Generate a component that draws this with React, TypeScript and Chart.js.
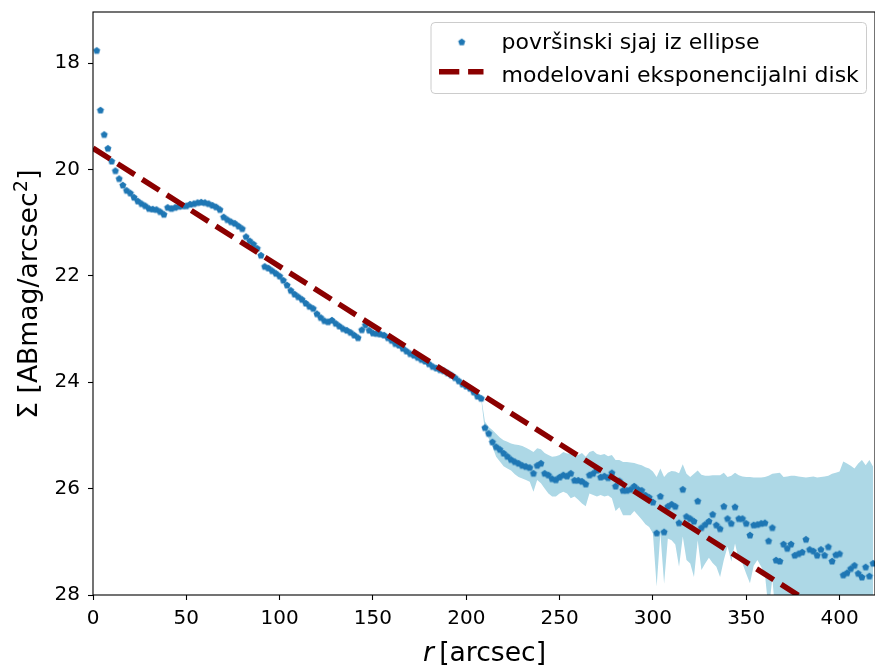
import React, { useEffect, useRef } from "react";
import { Chart, registerables } from "chart.js";

Chart.register(...registerables);

// radius of each isophote [arcsec]
const radiusArcsec = [
  2, 4, 6, 8, 10, 12, 14, 16, 18, 20, 22, 24, 26, 28, 30, 32, 34, 36, 38, 40,
  42, 44, 46, 48, 50, 52, 54, 56, 58, 60, 62, 64, 66, 68, 70, 72, 74, 76, 78, 80,
  82, 84, 86, 88, 90, 92, 94, 96, 98, 100, 102, 104, 106, 108, 110, 112, 114, 116, 118, 120,
  122, 124, 126, 128, 130, 132, 134, 136, 138, 140, 142, 144, 146, 148, 150, 152, 154, 156, 158, 160,
  162, 164, 166, 168, 170, 172, 174, 176, 178, 180, 182, 184, 186, 188, 190, 192, 194, 196, 198, 200,
  202, 204, 206, 208, 210, 212, 214, 216, 218, 220, 222, 224, 226, 228, 230, 232, 234, 236, 238, 240,
  242, 244, 246, 248, 250, 252, 254, 256, 258, 260, 262, 264, 266, 268, 270, 272, 274, 276, 278, 280,
  282, 284, 286, 288, 290, 292, 294, 296, 298, 300, 302, 304, 306, 308, 310, 312, 314, 316, 318, 320,
  322, 324, 326, 328, 330, 332, 334, 336, 338, 340, 342, 344, 346, 348, 350, 352, 354, 356, 358, 360,
  362, 364, 366, 368, 370, 372, 374, 376, 378, 380, 382, 384, 386, 388, 390, 392, 394, 396, 398, 400,
  402, 404, 406, 408, 410, 412, 414, 416, 418,
];

// surface brightness from ellipse fitting [ABmag/arcsec^2]
const surfaceBrightness = [
  17.76, 18.88, 19.34, 19.6, 19.84, 20.02, 20.17, 20.29, 20.39, 20.44,
  20.52, 20.59, 20.64, 20.68, 20.73, 20.74, 20.75, 20.79, 20.84, 20.71,
  20.73, 20.71, 20.69, 20.68, 20.68, 20.65, 20.64, 20.62, 20.61, 20.62,
  20.64, 20.67, 20.7, 20.75, 20.89, 20.94,
  20.98, 21.01, 21.06, 21.11, 21.26, 21.34, 21.4, 21.48, 21.61, 21.82,
  21.85, 21.9, 21.95, 22.0, 22.08, 22.17, 22.27, 22.34, 22.39, 22.44,
  22.51, 22.57, 22.61, 22.71, 22.78, 22.84, 22.86, 22.83, 22.89, 22.94, 22.99,
  23.02, 23.06, 23.11, 23.16, 23.01, 22.92, 23.02, 23.07, 23.08, 23.09,
  23.11, 23.16, 23.21, 23.27, 23.3, 23.36, 23.41, 23.46, 23.49, 23.53,
  23.57, 23.6, 23.65, 23.7, 23.73, 23.76, 23.78, 23.82, 23.86, 23.91,
  23.97, 24.03, 24.07, 24.11, 24.18,
  24.26, 24.3, 24.85, 24.96, 25.12, 25.21, 25.26, 25.33, 25.39, 25.45,
  25.49, 25.52, 25.56, 25.58, 25.6, 25.71, 25.56, 25.52, 25.71, 25.74,
  25.81, 25.83, 25.78, 25.74, 25.76, 25.71, 25.84, 25.84, 25.86, 25.91,
  25.74, 25.71, 25.65,
  25.78, 25.76, 25.79, 25.7, 25.95, 25.85, 26.03, 26.03, 26.01, 25.95,
  26.01, 26.03, 26.12, 26.16, 26.25, 26.83, 26.14, 26.81, 26.33, 26.29,
  26.33, 26.64, 26.01, 26.52, 26.56, 26.61, 26.23, 26.73, 26.67, 26.61,
  26.48, 26.68, 26.75, 26.33, 26.56,
  26.65, 26.34, 26.56, 26.56, 26.65, 26.87, 26.68, 26.67, 26.65, 26.64,
  26.98, 26.73, 27.34, 27.36, 27.04, 27.12, 27.04, 27.25, 27.22, 27.19,
  26.95, 27.14, 27.17, 27.25, 27.14, 27.25, 27.09, 27.36, 27.24, 27.22,
  27.62, 27.58, 27.5, 27.44, 27.59, 27.66, 27.47, 27.64, 27.4,
];

// uncertainty band (outer part, where it is visible)
const bandRadius = [
  206, 208, 210, 212, 214, 216, 218, 220, 222, 224, 226, 228, 230, 232, 234, 236, 238, 240, 242, 244,
  246, 248, 250, 252, 254, 256, 258, 260, 262, 264, 266, 268, 270, 272, 274, 276, 278, 280, 282, 284,
  286, 288, 290, 292, 294, 296, 298, 300, 302, 304, 306, 308, 310, 312, 314, 316, 318, 320, 322, 324,
  326, 328, 330, 332, 334, 336, 338, 340, 342, 344, 346, 348, 350, 352, 354, 356, 358, 360, 362, 364,
  366, 368, 370, 372, 374, 376, 378, 380, 382, 384, 386, 388, 390, 392, 394, 396, 398, 400, 402, 404,
  406, 408, 410, 412, 414, 416, 418,
];
const bandUpper = [
  24.23, 24.28, 24.74, 24.84, 24.9, 24.97, 25.04, 25.09, 25.12, 25.15,
  25.17, 25.18, 25.2, 25.23, 25.27, 25.31, 25.24, 25.26, 25.33, 25.37,
  25.4, 25.39, 25.37, 25.31, 25.34, 25.34, 25.37, 25.37, 25.33, 25.4,
  25.31, 25.29, 25.35,
  25.37, 25.35, 25.39, 25.37, 25.46, 25.46, 25.5, 25.5, 25.51, 25.52,
  25.54, 25.56, 25.6, 25.62, 25.68, 25.78, 25.62, 25.78, 25.7, 25.67,
  25.68, 25.71, 25.54, 25.72, 25.78, 25.72, 25.66, 25.74, 25.76, 25.76,
  25.75, 25.75, 25.75, 25.7, 25.78,
  25.76, 25.7, 25.75, 25.77, 25.78, 25.78, 25.79, 25.79, 25.79, 25.78,
  25.76, 25.72, 25.71, 25.7, 25.78, 25.77, 25.76, 25.76, 25.77, 25.78,
  25.79, 25.78, 25.77, 25.79, 25.78, 25.77, 25.76, 25.72, 25.7, 25.68,
  25.49, 25.53, 25.57, 25.62, 25.53, 25.46, 25.56, 25.46, 25.59,
];
const bandLower = [
  24.28, 24.32, 24.92, 25.06, 25.21, 25.4, 25.49, 25.58, 25.62, 25.66,
  25.73, 25.78, 25.81, 25.84, 25.87, 26.06, 25.84, 25.9, 26.0, 26.09,
  26.15, 26.15, 26.09, 26.06, 26.09, 26.18, 26.15, 26.21, 26.28, 26.33,
  26.09, 26.12, 26.15,
  26.12, 26.15, 26.13, 26.18, 26.42, 26.35, 26.5, 26.5, 26.5, 26.42,
  26.5, 26.58, 26.67, 26.72, 26.84, 27.84, 26.84, 27.79, 26.94, 26.97,
  27.05, 27.47, 26.9, 27.34, 27.41, 27.66, 26.97, 27.53, 27.41, 27.3,
  27.4, 27.47, 27.66, 27.34, 27.09,
  27.37, 27.03, 27.34, 27.41, 27.6, 27.78, 27.45, 27.34, 27.47, 27.6,
  28.3, 27.69, 28.5, 28.5, 28.5, 28.5, 28.5, 28.5, 28.5, 28.5,
  28.5, 28.5, 28.5, 28.5, 28.5, 28.5, 28.5, 28.5, 28.5, 28.5,
  28.5, 28.5, 28.5, 28.5, 28.5, 28.5, 28.5, 28.5, 28.5,
];

// modelled exponential disk
const modelRadius = [0, 419];
const modelMag = [19.6, 28.92];

const xTicks = [0, 50, 100, 150, 200, 250, 300, 350, 400];
const yTicks = [18, 20, 22, 24, 26, 28];

const legendLabels = ["površinski sjaj iz ellipse", "modelovani eksponencijalni disk"];
const xLabelItalic = "r";
const xLabelRest = "\u2009[arcsec]";
const yLabelMain = "\u03A3 [ABmag/arcsec";
const yLabelSup = "2";
const yLabelEnd = "]";

const POINT_COLOR = "#1f77b4";
const LINE_COLOR = "#8b0000";
const BAND_COLOR = "#add8e6";
const FONT = '"DejaVu Sans"';

function makePentagon(r: number, color: string): HTMLCanvasElement {
  const size = Math.ceil(r * 2 + 2);
  const c = document.createElement("canvas");
  c.width = size;
  c.height = size;
  const ctx = c.getContext("2d")!;
  ctx.fillStyle = color;
  ctx.beginPath();
  for (let i = 0; i < 5; i++) {
    const a = -Math.PI / 2 + (i * 2 * Math.PI) / 5;
    const px = size / 2 + r * Math.cos(a);
    const py = size / 2 + r * Math.sin(a) + 0.4;
    if (i === 0) ctx.moveTo(px, py);
    else ctx.lineTo(px, py);
  }
  ctx.closePath();
  ctx.fill();
  return c;
}

function zeroPadding(s: any) {
  s.paddingTop = 0;
  s.paddingBottom = 0;
  s.paddingLeft = 0;
  s.paddingRight = 0;
}

export default function App() {
  const ref = useRef<HTMLCanvasElement>(null);

  useEffect(() => {
    const canvas = ref.current!;
    const marker = makePentagon(3.7, POINT_COLOR);

    const decor = {
      id: "decor",
      afterLayout(chart: any) {
        const xs = chart.scales.x;
        const W = chart.width;
        if (xs && xs.right !== W) {
          xs.right = W;
          xs.width = W - xs.left;
          xs.configure();
          chart.chartArea.right = W;
          chart.chartArea.width = W - chart.chartArea.left;
        }
      },
      afterDraw(chart: any) {
        const { ctx, chartArea: a } = chart;
        ctx.save();
        // frame
        ctx.strokeStyle = "#000";
        ctx.lineWidth = 1.1;
        ctx.setLineDash([]);
        ctx.strokeRect(a.left, a.top, a.right - a.left, a.bottom - a.top);

        // legend
        const bx = 431, by = 22.5, bw = 435.5, bh = 71, r = 4;
        ctx.beginPath();
        ctx.moveTo(bx + r, by);
        ctx.lineTo(bx + bw - r, by);
        ctx.quadraticCurveTo(bx + bw, by, bx + bw, by + r);
        ctx.lineTo(bx + bw, by + bh - r);
        ctx.quadraticCurveTo(bx + bw, by + bh, bx + bw - r, by + bh);
        ctx.lineTo(bx + r, by + bh);
        ctx.quadraticCurveTo(bx, by + bh, bx, by + bh - r);
        ctx.lineTo(bx, by + r);
        ctx.quadraticCurveTo(bx, by, bx + r, by);
        ctx.closePath();
        ctx.fillStyle = "rgba(255,255,255,0.8)";
        ctx.fill();
        ctx.strokeStyle = "#cccccc";
        ctx.lineWidth = 1;
        ctx.stroke();

        ctx.drawImage(marker, 461.7 - marker.width / 2, 41.7 - marker.height / 2);
        ctx.beginPath();
        ctx.strokeStyle = LINE_COLOR;
        ctx.lineWidth = 5.5;
        ctx.lineCap = "butt";
        ctx.setLineDash([20.3, 8.8]);
        ctx.moveTo(439, 71.7);
        ctx.lineTo(483.5, 71.7);
        ctx.stroke();
        ctx.setLineDash([]);

        ctx.fillStyle = "#000";
        ctx.font = `22px ${FONT}`;
        ctx.textAlign = "left";
        ctx.textBaseline = "alphabetic";
        ctx.fillText(legendLabels[0], 501.5, 48.5);
        ctx.fillText(legendLabels[1], 501.5, 81.5);

        // x label
        const LF = 26.6;
        ctx.font = `italic ${LF}px ${FONT}`;
        const w1 = ctx.measureText(xLabelItalic).width;
        ctx.font = `${LF}px ${FONT}`;
        const w2 = ctx.measureText(xLabelRest).width;
        const cx = 484.5;
        const startX = cx - (w1 + w2) / 2;
        ctx.font = `italic ${LF}px ${FONT}`;
        ctx.fillText(xLabelItalic, startX, 660.5);
        ctx.font = `${LF}px ${FONT}`;
        ctx.fillText(xLabelRest, startX + w1, 660.5);

        // y label (rotated)
        const SF = LF * 0.7;
        ctx.font = `${LF}px ${FONT}`;
        const m1 = ctx.measureText(yLabelMain).width;
        const m3 = ctx.measureText(yLabelEnd).width;
        ctx.font = `${SF}px ${FONT}`;
        const m2 = ctx.measureText(yLabelSup).width + 1;
        const total = m1 + m2 + m3;
        ctx.translate(0, 294);
        ctx.rotate(-Math.PI / 2);
        ctx.textAlign = "left";
        ctx.textBaseline = "alphabetic";
        const sx = -total / 2;
        const base = 37;
        ctx.font = `${LF}px ${FONT}`;
        ctx.fillText(yLabelMain, sx, base);
        ctx.font = `${SF}px ${FONT}`;
        ctx.fillText(yLabelSup, sx + m1 + 0.5, base - 10);
        ctx.font = `${LF}px ${FONT}`;
        ctx.fillText(yLabelEnd, sx + m1 + m2, base);
        ctx.restore();
      },
    };

    const chart = new Chart(canvas, {
      type: "scatter",
      data: {
        datasets: [
          {
            label: legendLabels[1],
            data: modelRadius.map((x, i) => ({ x, y: modelMag[i] })),
            showLine: true,
            borderColor: LINE_COLOR,
            backgroundColor: LINE_COLOR,
            borderWidth: 5.5,
            borderDash: [20.3, 8.8],
            borderCapStyle: "butt",
            pointRadius: 0,
            fill: false,
            clip: 0,
          } as any,
          {
            label: legendLabels[0],
            data: radiusArcsec.map((x, i) => ({ x, y: surfaceBrightness[i] })),
            showLine: false,
            pointStyle: marker,
            pointRadius: 3,
            backgroundColor: POINT_COLOR,
            borderColor: POINT_COLOR,
          } as any,
          {
            label: "bandUpper",
            data: bandRadius.map((x, i) => ({ x, y: bandUpper[i] })),
            showLine: true,
            borderWidth: 0,
            borderColor: "rgba(0,0,0,0)",
            pointRadius: 0,
            fill: false,
          } as any,
          {
            label: "bandLower",
            data: bandRadius.map((x, i) => ({ x, y: bandLower[i] })),
            showLine: true,
            borderWidth: 0,
            borderColor: "rgba(0,0,0,0)",
            backgroundColor: BAND_COLOR,
            pointRadius: 0,
            fill: "-1",
          } as any,
        ],
      },
      options: {
        animation: false,
        responsive: false,
        devicePixelRatio: 1,
        events: [],
        layout: { padding: { top: 12, right: 0, left: 0, bottom: 0 } },
        plugins: {
          legend: { display: false },
          tooltip: { enabled: false },
        },
        scales: {
          x: {
            type: "linear",
            min: 0,
            max: 419,
            afterBuildTicks: (s: any) => {
              s.ticks = xTicks.map((v) => ({ value: v }));
            },
            afterFit: (s: any) => {
              s.height = 71;
              zeroPadding(s);
            },
            grid: {
              display: true,
              drawOnChartArea: false,
              drawTicks: true,
              tickLength: 5,
              tickColor: "#000",
              tickWidth: 1.1,
              color: "#000",
            },
            border: { display: false },
            ticks: {
              color: "#000",
              font: { family: "DejaVu Sans", size: 20, lineHeight: 1 },
              padding: 9,
              maxRotation: 0,
              autoSkip: false,
            },
          },
          y: {
            type: "linear",
            reverse: true,
            min: 17.04,
            max: 28,
            afterBuildTicks: (s: any) => {
              s.ticks = yTicks.map((v) => ({ value: v }));
            },
            afterFit: (s: any) => {
              s.width = 93;
              zeroPadding(s);
            },
            grid: {
              display: true,
              drawOnChartArea: false,
              drawTicks: true,
              tickLength: 5,
              tickColor: "#000",
              tickWidth: 1.1,
              color: "#000",
            },
            border: { display: false },
            ticks: {
              color: "#000",
              font: { family: "DejaVu Sans", size: 20, lineHeight: 1 },
              padding: 8,
              autoSkip: false,
            },
          },
        },
      },
      plugins: [decor],
    } as any);

    return () => chart.destroy();
  }, []);

  return (
    <div style={{ position: "absolute", left: 0, top: 0, width: 875, height: 666, background: "#fff" }}>
      <canvas ref={ref} width={875} height={666} style={{ display: "block" }} />
    </div>
  );
}
